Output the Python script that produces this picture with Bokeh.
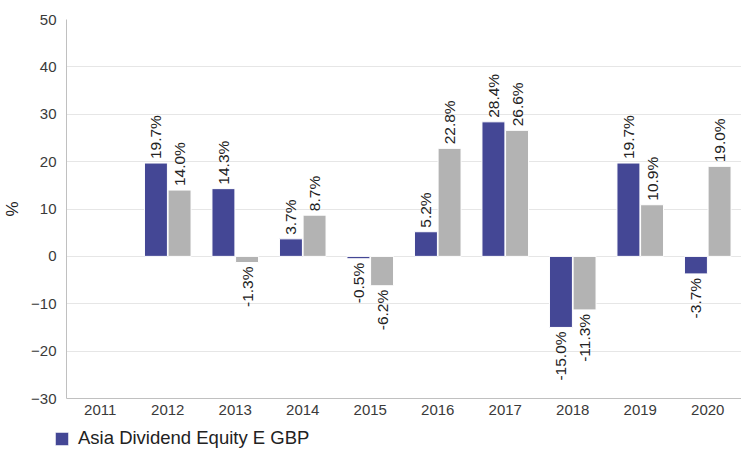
import math
from bokeh.plotting import figure
from bokeh.layouts import column
from bokeh.models import ColumnDataSource, Legend, LegendItem, FactorRange, Range1d
from bokeh.transform import dodge
from bokeh.core.properties import value
from bokeh.embed import file_html
from bokeh.resources import INLINE

years = ["2011", "2012", "2013", "2014", "2015", "2016", "2017", "2018", "2019", "2020"]
fund_name = "Asia Dividend Equity E GBP"
fund = [float("nan"), 19.7, 14.3, 3.7, -0.5, 5.2, 28.4, -15.0, 19.7, -3.7]
sector_name = "Sector average"
sector = [float("nan"), 14.0, -1.3, 8.7, -6.2, 22.8, 26.6, -11.3, 10.9, 19.0]
y_ticks = [-30, -20, -10, 0, 10, 20, 30, 40, 50]

FONT = "Liberation Sans"
BLUE = "#444795"
GREY = "#b3b3b3"

def make_source(vals):
    ok = [not math.isnan(v) for v in vals]
    ys = [v for v, k in zip(vals, ok) if k]
    xs = [y for y, k in zip(years, ok) if k]
    return ColumnDataSource(dict(
        year=xs,
        val=ys,
        label=["%.1f%%" % v for v in ys],
        align=["left" if v >= 0 else "right" for v in ys],
        yoff=[-4 if v >= 0 else 4 for v in ys],
    ))

src_f = make_source(fund)
src_s = make_source(sector)

p = figure(x_range=FactorRange(*years), y_range=(y_ticks[0], y_ticks[-1]),
           frame_width=675, frame_height=379, output_backend="svg", toolbar_location=None,
           min_border_left=60, min_border_right=0, min_border_top=19, min_border_bottom=30)
p.outline_line_color = None
p.frame_align = False

off = 0.175
wid = 0.34
r1 = p.vbar(x=dodge("year", -off, range=p.x_range), top="val", bottom=0, width=wid,
            source=src_f, fill_color=BLUE, line_color="white", line_width=1)
r2 = p.vbar(x=dodge("year", off, range=p.x_range), top="val", bottom=0, width=wid,
            source=src_s, fill_color=GREY, line_color="white", line_width=1)

for src, d in ((src_f, -off), (src_s, off)):
    p.text(x=dodge("year", d, range=p.x_range), y="val", text="label", source=src,
           angle=math.pi / 2, text_align="align", text_baseline="middle",
           y_offset="yoff", text_font=value(FONT), text_font_size="15.5px",
           text_color="#222222")

p.yaxis.ticker = y_ticks
p.yaxis.axis_label = "%"
p.yaxis.axis_label_text_font = FONT
p.yaxis.axis_label_text_font_style = "normal"
p.yaxis.axis_label_text_font_size = "17px"
p.yaxis.axis_label_text_color = "#222222"
p.yaxis.axis_label_standoff = 6
for ax in (p.xaxis, p.yaxis):
    ax.major_tick_line_color = None
    ax.minor_tick_line_color = None
    ax.major_tick_out = 0
    ax.major_tick_in = 0
    ax.major_label_text_font = FONT
    ax.major_label_text_font_size = "15px"
    ax.major_label_text_color = "#3a3a3a"
    ax.axis_line_color = "#c0c0c0"
p.yaxis.major_label_standoff = 10
p.xaxis.major_label_standoff = 6
p.xaxis.axis_label_standoff = 0
p.xgrid.grid_line_color = None
p.ygrid.grid_line_color = "#e6e6e6"
p.x_range.range_padding = 0
p.x_range.group_padding = 0

# legend strip below the chart (its bars lie outside its y range, only the legend shows)
p2 = figure(width=735, height=24, x_range=FactorRange(*years), y_range=Range1d(100, 101),
            x_axis_type=None, y_axis_type=None, output_backend="svg",
            toolbar_location=None, min_border=0)
p2.frame_align = False
p2.outline_line_color = None
p2.grid.visible = False
rl = p2.vbar(x="year", top="val", bottom=0, width=wid, source=src_f,
             fill_color=BLUE, line_color="white")
legend = Legend(items=[LegendItem(label=fund_name, renderers=[rl])],
                location=(53, 3), orientation="horizontal",
                label_text_font=FONT, label_text_font_size="18.5px",
                label_text_color="#222222", glyph_width=17, glyph_height=17,
                label_height=17, background_fill_alpha=0,
                border_line_color=None, padding=0, margin=0, label_standoff=8)
p2.add_layout(legend, "center")

layout = column(p, p2, spacing=0)
open("out.html", "w").write(file_html(layout, INLINE))
